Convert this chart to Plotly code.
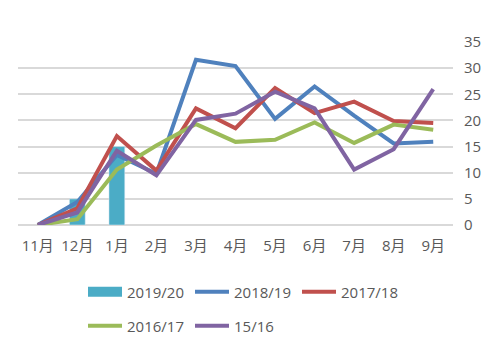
import plotly.graph_objects as go

months = ["11月", "12月", "1月", "2月", "3月", "4月", "5月", "6月", "7月", "8月", "9月"]
bar_1920 = [None, 5, 15, None, None, None, None, None, None, None, None]
s1819 = [0, 4.4, 13.4, 9.8, 31.6, 30.4, 20.3, 26.5, 20.9, 15.6, 15.9]
s1718 = [0, 3.2, 17.0, 10.4, 22.3, 18.5, 26.2, 21.4, 23.6, 19.9, 19.5]
s1617 = [0, 1.1, 10.6, 15.2, 19.3, 15.9, 16.3, 19.6, 15.7, 19.2, 18.2]
s1516 = [0, 2.4, 14.2, 9.5, 20.1, 21.3, 25.5, 22.3, 10.6, 14.5, 26.0]

FONT = "Open Sans, Noto Sans CJK SC"
GRAY = "#595959"
BAR_COLOR = "#4BACC6"

fig = go.Figure()
fig.add_trace(go.Bar(x=months, y=bar_1920, name="2019/20", marker_color=BAR_COLOR,
                     showlegend=False))
# legend key for the bar series (wide rectangle like the original)
fig.add_trace(go.Scatter(x=months, y=[None] * len(months), name="2019/20", mode="lines",
                         line=dict(color=BAR_COLOR, width=10), legend="legend",
                         hoverinfo="skip"))
lines = [("2018/19", s1819, "#4F81BD", "legend"),
         ("2017/18", s1718, "#C0504D", "legend"),
         ("2016/17", s1617, "#9BBB59", "legend2"),
         ("15/16", s1516, "#8064A2", "legend2")]
for name, ys, col, lg in lines:
    fig.add_trace(go.Scatter(x=months, y=ys, name=name, mode="lines",
                             line=dict(color=col, width=4), legend=lg))

legend_common = dict(orientation="h", xanchor="left", yanchor="middle",
                     xref="container", yref="container",
                     font=dict(family=FONT, size=15, color=GRAY),
                     entrywidth=58, entrywidthmode="pixels", itemwidth=34,
                     bgcolor="rgba(0,0,0,0)", traceorder="normal")
fig.update_layout(
    width=500, height=345,
    margin=dict(l=18, r=47, t=42, b=120),
    paper_bgcolor="white", plot_bgcolor="white",
    bargap=0.6,
    font=dict(family=FONT, size=15, color=GRAY),
    showlegend=True,
    legend=dict(x=83 / 500, y=1 - 292 / 345, **legend_common),
    legend2=dict(x=83 / 500, y=1 - 326 / 345, **legend_common),
    xaxis=dict(showgrid=False, showline=False, ticks="",
               tickfont=dict(size=15, color=GRAY), ticklabelstandoff=10),
    yaxis=dict(side="right", range=[0, 35], dtick=5, showgrid=True,
               gridcolor="#D9D9D9", gridwidth=1.5, zeroline=True,
               zerolinecolor="#D9D9D9", zerolinewidth=1.5,
               tickfont=dict(size=15, color=GRAY), ticklabelstandoff=10),
)
fig.write_html("out.html")
